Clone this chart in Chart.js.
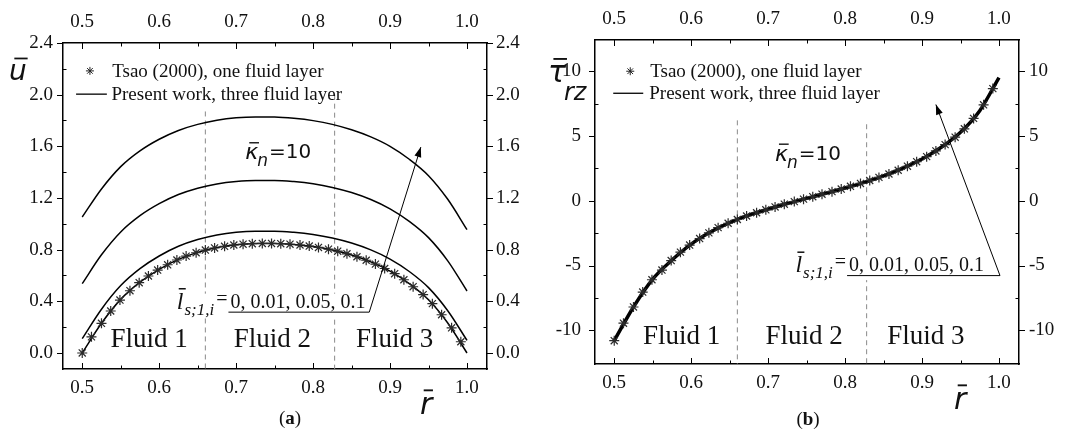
<!DOCTYPE html>
<html>
<head>
<meta charset="utf-8">
<script src="https://cdn.jsdelivr.net/npm/chart.js@4/dist/chart.umd.min.js"></script>
<style>
body { margin: 0; background: #fff; width: 1072px; height: 435px; overflow: hidden; position: relative; }
.panel { position: absolute; top: 0; width: 536px; height: 435px; }
</style>
</head>
<body>
<div class="panel" style="left:0"><canvas id="chart-a"></canvas></div>
<div class="panel" style="left:536px"><canvas id="chart-b"></canvas></div>
<script>
// radial position for the solid curves
const rLine = [0.500, 0.525, 0.550, 0.575, 0.600, 0.625, 0.650, 0.675, 0.700, 0.725, 0.750,
               0.775, 0.800, 0.825, 0.850, 0.875, 0.900, 0.925, 0.950, 0.975, 1.000];

// (a) velocity, present work, slip length 0, 0.01, 0.05, 0.1
const uSlip0   = [0.000, 0.230, 0.415, 0.548, 0.648, 0.725, 0.779, 0.816, 0.838, 0.847, 0.848,
                  0.840, 0.824, 0.797, 0.758, 0.705, 0.634, 0.537, 0.412, 0.232, 0.000];
const uSlip001 = [0.111, 0.339, 0.522, 0.653, 0.751, 0.826, 0.878, 0.914, 0.935, 0.943, 0.943,
                  0.934, 0.917, 0.890, 0.851, 0.798, 0.727, 0.631, 0.506, 0.327, 0.098];
const uSlip005 = [0.537, 0.760, 0.937, 1.063, 1.156, 1.227, 1.276, 1.309, 1.328, 1.336, 1.336,
                  1.327, 1.310, 1.282, 1.242, 1.188, 1.116, 1.019, 0.893, 0.713, 0.480];
const uSlip01  = [1.053, 1.270, 1.443, 1.565, 1.655, 1.723, 1.770, 1.802, 1.821, 1.828, 1.827,
                  1.817, 1.799, 1.770, 1.728, 1.673, 1.600, 1.500, 1.373, 1.190, 0.955];

// Tsao (2000) points
const rTsao = [0.500, 0.512, 0.525, 0.537, 0.549, 0.562, 0.574, 0.586, 0.598, 0.611, 0.623,
               0.635, 0.648, 0.660, 0.672, 0.685, 0.697, 0.709, 0.721, 0.734, 0.746, 0.758,
               0.770, 0.783, 0.795, 0.807, 0.820, 0.832, 0.844, 0.857, 0.869, 0.881, 0.893,
               0.906, 0.918, 0.930, 0.943, 0.955, 0.967, 0.980, 0.992];
const uTsao = [0.000, 0.125, 0.230, 0.325, 0.410, 0.482, 0.544, 0.596, 0.642, 0.683, 0.720,
               0.750, 0.776, 0.797, 0.813, 0.826, 0.836, 0.842, 0.846, 0.848, 0.848, 0.846,
               0.842, 0.836, 0.828, 0.817, 0.804, 0.788, 0.768, 0.745, 0.718, 0.688, 0.654,
               0.614, 0.567, 0.513, 0.452, 0.382, 0.296, 0.195, 0.087];

// (b) shear stress (same for all slip lengths)
const tauLine = [-10.80, -8.20, -6.05, -4.58, -3.35, -2.42, -1.69, -1.12, -0.65, -0.22, 0.18,
                 0.58, 0.98, 1.42, 1.92, 2.52, 3.22, 4.12, 5.28, 6.95, 9.50];
const tauTsao = [-10.80, -9.45, -8.20, -7.05, -6.10, -5.35, -4.62, -3.97, -3.42, -2.92, -2.48,
                 -2.08, -1.74, -1.45, -1.18, -0.93, -0.70, -0.48, -0.27, -0.07, 0.12, 0.31,
                 0.50, 0.70, 0.90, 1.11, 1.33, 1.56, 1.80, 2.06, 2.35, 2.66, 3.01,
                 3.40, 3.84, 4.33, 4.90, 5.55, 6.35, 7.40, 8.65];

// fluid interfaces and where the dashed lines start
const wallR = [0.66, 0.828];
const uWallTop = [1.87, 2.0];
const tauWallTop = [6.2, 5.9];

// ticks
const xTicks = [0.5, 0.6, 0.7, 0.8, 0.9, 1.0];
const xMinor = [0.55, 0.65, 0.75, 0.85, 0.95];
const uTicks = [0.0, 0.4, 0.8, 1.2, 1.6, 2.0, 2.4];
const uMinor = [0.2, 0.6, 1.0, 1.4, 1.8, 2.2];
const tauTicks = [-10, -5, 0, 5, 10];
const tauMinor = [-7.5, -2.5, 2.5, 7.5];

const slipText = '0, 0.01, 0.05, 0.1';
const legendText = ['Tsao (2000), one fluid layer', 'Present work, three fluid layer'];
const fluidNames = ['Fluid 1', 'Fluid 2', 'Fluid 3'];

const SERIF = "'Liberation Serif', 'DejaVu Serif', serif";
const SANS = "'DejaVu Sans', sans-serif";

function pts(xs, ys) { return xs.map((x, i) => ({x: x, y: ys[i]})); }

function curve(data, width) {
    return {data: data, borderColor: '#000', borderWidth: width, pointRadius: 0,
            cubicInterpolationMode: 'monotone', fill: false};
}

function stars(data) {
    return {data: data, showLine: false, pointStyle: 'star', pointRadius: 5,
            borderColor: '#2a2a2a', borderWidth: 1.2, backgroundColor: '#2a2a2a'};
}

function wall(x, top, bottom) {
    return {data: [{x: x, y: top}, {x: x, y: bottom}], borderColor: '#8a8a8a', borderWidth: 1,
            borderDash: [5, 4], pointRadius: 0};
}

function axis(pos, min, max, ticks, fmt, size, pad) {
    return {
        type: 'linear', position: pos, min: min, max: max,
        grid: {display: false, drawTicks: false, tickLength: 0},
        border: {display: true, color: '#000', width: 1.5},
        afterBuildTicks: s => { s.ticks = ticks.map(v => ({value: v})); },
        afterFit: s => { if (pos === 'top' || pos === 'bottom') s.height = size; else s.width = size; },
        ticks: {font: {family: SERIF, size: 19}, color: '#111', padding: pad,
                autoSkip: false, maxRotation: 0, callback: fmt}
    };
}

function barred(ctx, ch, x, y, size, family, lift) {
    ctx.font = 'italic ' + size + 'px ' + family;
    ctx.textAlign = 'left';
    ctx.textBaseline = 'alphabetic';
    ctx.fillText(ch, x, y);
    const w = ctx.measureText(ch).width;
    ctx.fillRect(x + w * 0.3, y - size * lift, Math.max(w * 0.75, 7), Math.max(1.2, size / 16));
    return w;
}

function makeDecor(cfg) {
    return {
        id: 'decor',
        afterDatasetsDraw(chart) {
            const ctx = chart.ctx, a = chart.chartArea;
            const X = v => chart.scales.x.getPixelForValue(v);
            const Y = v => chart.scales.y.getPixelForValue(v);
            ctx.save();

            // tick marks
            ctx.strokeStyle = '#000';
            ctx.lineWidth = 1;
            ctx.beginPath();
            xTicks.forEach(v => {
                const p = Math.round(X(v)) + 0.5;
                ctx.moveTo(p, a.bottom); ctx.lineTo(p, a.bottom - 6);
                ctx.moveTo(p, a.top); ctx.lineTo(p, a.top + 6);
            });
            xMinor.forEach(v => {
                const p = Math.round(X(v)) + 0.5;
                ctx.moveTo(p, a.bottom); ctx.lineTo(p, a.bottom - 3.5);
                ctx.moveTo(p, a.top); ctx.lineTo(p, a.top + 3.5);
            });
            cfg.yMajor.forEach(v => {
                const p = Math.round(Y(v)) + 0.5;
                ctx.moveTo(a.left - 6, p); ctx.lineTo(a.left, p);
                ctx.moveTo(a.right, p); ctx.lineTo(a.right + 6, p);
            });
            cfg.yMinor.forEach(v => {
                const p = Math.round(Y(v)) + 0.5;
                ctx.moveTo(a.left, p); ctx.lineTo(a.left + 3.5, p);
                ctx.moveTo(a.right, p); ctx.lineTo(a.right - 3.5, p);
            });
            ctx.stroke();

            // legend
            const lg = cfg.legend;
            const sx = X(lg.star[0]), sy = Y(lg.star[1]);
            ctx.strokeStyle = '#222';
            ctx.beginPath();
            for (let k = 0; k < 4; k++) {
                const ang = k * Math.PI / 4;
                ctx.moveTo(sx - 4 * Math.cos(ang), sy - 4 * Math.sin(ang));
                ctx.lineTo(sx + 4 * Math.cos(ang), sy + 4 * Math.sin(ang));
            }
            ctx.stroke();
            ctx.strokeStyle = '#000';
            ctx.lineWidth = 1.3;
            ctx.beginPath();
            ctx.moveTo(X(lg.line[0]), Y(lg.line[2]));
            ctx.lineTo(X(lg.line[1]), Y(lg.line[2]));
            ctx.stroke();
            ctx.fillStyle = '#111';
            ctx.font = '19px ' + SERIF;
            ctx.textAlign = 'left';
            ctx.textBaseline = 'middle';
            ctx.fillText(legendText[0], X(lg.text[0]), sy + 1);
            ctx.fillText(legendText[1], X(lg.text[1]), Y(lg.line[2]) + 1);

            // fluid labels
            ctx.font = '27px ' + SERIF;
            ctx.textAlign = 'center';
            ctx.textBaseline = 'alphabetic';
            cfg.fluidX.forEach((v, i) => ctx.fillText(fluidNames[i], X(v), Y(cfg.fluidY)));

            // kappa label
            let kx = X(cfg.kappa[0]);
            const ky = Y(cfg.kappa[1]);
            kx += barred(ctx, '\u03ba', kx, ky, 22, SANS, 0.78);
            ctx.font = 'italic 17px ' + SANS;
            ctx.fillText('n', kx - 1, ky + 7);
            kx += ctx.measureText('n').width;
            ctx.font = '20px ' + SANS;
            ctx.fillText('=10', kx, ky - 1);

            // slip label with leader line and arrow
            const s = cfg.slip;
            const ux0 = X(s.under[0]), ux1 = X(s.under[1]), uy = Y(s.under[2]);
            const base = uy - 4;
            ctx.font = '20px ' + SERIF;
            const numW = ctx.measureText(slipText).width;
            const eqW = ctx.measureText('=').width;
            ctx.font = 'italic 17px ' + SERIF;
            const subW = ctx.measureText('s;1,i').width;
            ctx.font = 'italic 24px ' + SERIF;
            const lW = ctx.measureText('l').width;
            const lx = ux0 - eqW - 4 - subW - lW;
            ctx.fillStyle = '#fff';
            ctx.fillRect(lx - 2, base - 14, ux0 + numW + 4 - lx, 23);
            ctx.fillStyle = '#111';
            barred(ctx, 'l', lx, base + 1, 24, SERIF, 0.86);
            ctx.font = 'italic 17px ' + SERIF;
            ctx.fillText('s;1,i', lx + lW + 1, base + 7);
            ctx.font = '20px ' + SERIF;
            ctx.fillText('=', ux0 - eqW - 1, base - 3);
            ctx.fillText(slipText, ux0 + 2, base);
            const tx = X(s.tip[0]), ty = Y(s.tip[1]);
            ctx.strokeStyle = '#000';
            ctx.lineWidth = 1;
            ctx.beginPath();
            ctx.moveTo(ux0, uy + 0.5);
            ctx.lineTo(ux1, uy + 0.5);
            ctx.lineTo(tx, ty);
            ctx.stroke();
            const ang = Math.atan2(ty - uy, tx - ux1);
            ctx.beginPath();
            ctx.moveTo(tx, ty);
            ctx.lineTo(tx - 10 * Math.cos(ang) + 3.5 * Math.sin(ang), ty - 10 * Math.sin(ang) - 3.5 * Math.cos(ang));
            ctx.lineTo(tx - 10 * Math.cos(ang) - 3.5 * Math.sin(ang), ty - 10 * Math.sin(ang) + 3.5 * Math.cos(ang));
            ctx.closePath();
            ctx.fillStyle = '#000';
            ctx.fill();

            // axis titles and panel tag
            ctx.fillStyle = '#111';
            cfg.titles(ctx);
            ctx.font = '19px ' + SERIF;
            ctx.textAlign = 'left';
            const tag = cfg.tag;
            const w1 = ctx.measureText('(').width;
            ctx.font = 'bold 19px ' + SERIF;
            const w2 = ctx.measureText(tag[0]).width;
            let px = tag[1] - (2 * w1 + w2) / 2;
            ctx.font = '19px ' + SERIF;
            ctx.fillText('(', px, tag[2]);
            ctx.font = 'bold 19px ' + SERIF;
            ctx.fillText(tag[0], px + w1, tag[2]);
            ctx.font = '19px ' + SERIF;
            ctx.fillText(')', px + w1 + w2, tag[2]);

            ctx.restore();
        }
    };
}

function makeChart(id, datasets, yMin, yMax, yTicks, yFmt, sizes, pads, cfg) {
    return new Chart(document.getElementById(id), {
        type: 'line',
        data: {datasets: datasets},
        options: {
            responsive: true,
            maintainAspectRatio: false,
            animation: false,
            layout: {padding: 0},
            plugins: {legend: {display: false}, tooltip: {enabled: false}},
            scales: {
                x: axis('bottom', 0.475, 1.026, xTicks, v => v.toFixed(1), sizes[0], 8),
                x2: axis('top', 0.475, 1.026, xTicks, v => v.toFixed(1), sizes[1], 10),
                y: axis('left', yMin, yMax, yTicks, yFmt, sizes[2], pads[0]),
                y2: axis('right', yMin, yMax, yTicks, yFmt, sizes[3], pads[1])
            }
        },
        plugins: [makeDecor(cfg)]
    });
}

// (a) velocity
const uMin = -0.124, uMax = 2.4;
makeChart('chart-a', [
    stars(pts(rTsao, uTsao)),
    curve(pts(rLine, uSlip0), 1.5),
    curve(pts(rLine, uSlip001), 1.5),
    curve(pts(rLine, uSlip005), 1.5),
    curve(pts(rLine, uSlip01), 1.5),
    wall(wallR[0], uWallTop[0], uMin),
    wall(wallR[1], uWallTop[1], uMin)
], uMin, uMax, uTicks, v => v.toFixed(1), [66, 43, 63, 49], [10, 9], {
    yMajor: uTicks, yMinor: uMinor,
    legend: {star: [0.510, 2.184], text: [0.539, 0.538], line: [0.492, 0.532, 2.004]},
    fluidX: [0.587, 0.747, 0.906], fluidY: 0.049,
    kappa: [0.712, 1.50],
    slip: {under: [0.690, 0.873, 0.32], tip: [0.940, 1.594]},
    tag: ['a', 290, 424],
    titles: ctx => {
        barred(ctx, 'u', 9, 80, 28, SANS, 0.8);
        barred(ctx, 'r', 420, 414, 30, SANS, 0.82);
    }
});

// (b) shear stress
const tauMin = -12.6, tauMax = 12.4;
makeChart('chart-b', [
    stars(pts(rTsao, tauTsao)),
    curve(pts(rLine, tauLine), 3.5),
    wall(wallR[0], tauWallTop[0], tauMin),
    wall(wallR[1], tauWallTop[1], tauMin)
], tauMin, tauMax, tauTicks, v => String(v), [71, 40, 59, 53], [14, 10], {
    yMajor: tauTicks, yMinor: tauMinor,
    legend: {star: [0.5208, 9.99], text: [0.5468, 0.5455], line: [0.4987, 0.5377, 8.29]},
    fluidX: [0.5877, 0.7468, 0.905], fluidY: -11.05,
    kappa: [0.709, 3.09],
    slip: {under: [0.8026, 1.0013, -5.74], tip: [0.918, 7.42]},
    tag: ['b', 272, 425],
    titles: ctx => {
        barred(ctx, '\u03c4', 12, 82, 30, SANS, 0.8);
        ctx.font = 'italic 24px ' + SANS;
        ctx.fillText('rz', 28, 100);
        barred(ctx, 'r', 418, 409, 30, SANS, 0.82);
    }
});
</script>
</body>
</html>
